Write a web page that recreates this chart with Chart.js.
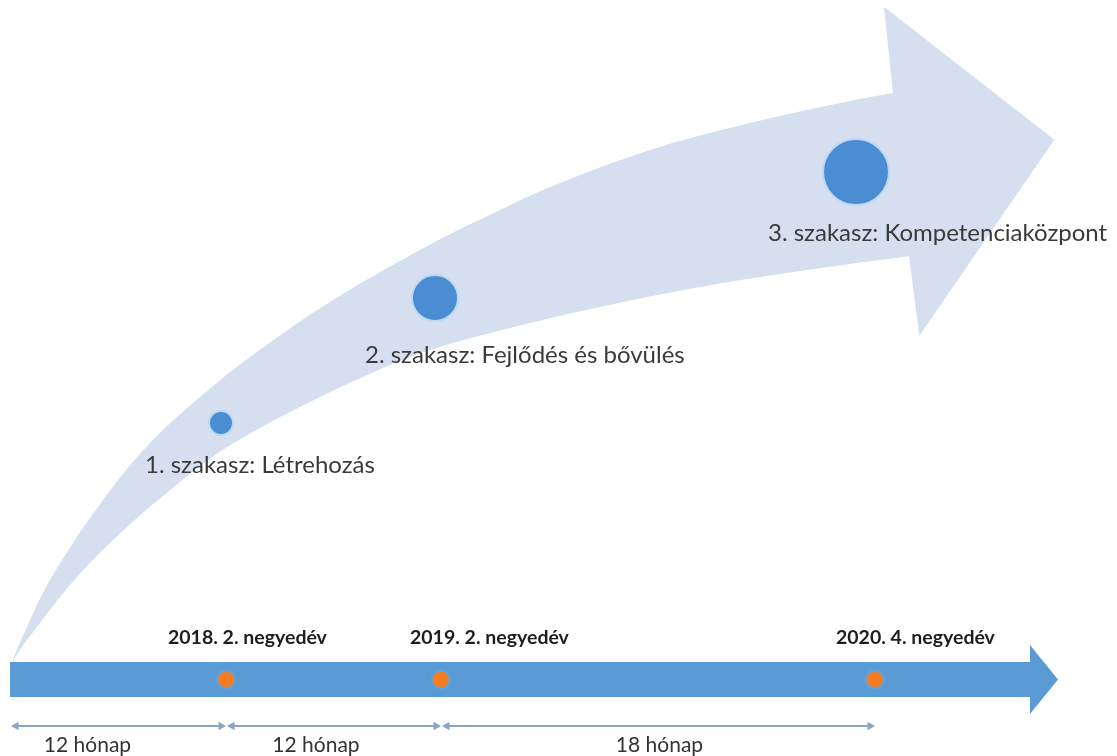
<!DOCTYPE html>
<html lang="hu">
<head>
<meta charset="utf-8">
<script src="https://cdn.jsdelivr.net/npm/chart.js@4.4.1/dist/chart.umd.min.js"></script>
<style>
  html, body { margin: 0; padding: 0; background: #fff; }
  #wrap { width: 1117px; height: 756px; }
</style>
</head>
<body>
<div id="wrap"><canvas id="roadmapChart"></canvas></div>
<script>
// Stages along the growth arrow
const stageNames = ["1. szakasz: Létrehozás", "2. szakasz: Fejlődés és bővülés", "3. szakasz: Kompetenciaközpont"];
const stageX = [221, 435, 856];
const stageY = [423, 298, 172];
const stageSize = [12, 23, 33];

// Timeline milestones and the spans between them
const milestoneNames = ["2018. 2. negyedév", "2019. 2. negyedév", "2020. 4. negyedév"];
const milestoneX = [226, 441, 875];
const spanNames = ["12 hónap", "12 hónap", "18 hónap"];
const timelineStart = 10;
const timelineEnd = 1030;
const timelineTip = 1058;

// Growth arrow outline (upper edge from the tail, lower edge back to the tail)
const upperX = [12, 22, 50, 103, 150, 200, 250, 333, 433, 500, 550, 650, 750, 850, 893];
const upperY = [662, 638, 580, 500, 443, 397, 357, 300, 243, 210, 187, 150, 123, 101, 93];
const lowerX = [910, 800, 700, 600, 510, 430, 367, 300, 260, 215, 180, 127, 77, 27, 12];
const lowerY = [256, 271, 287, 307, 328, 350, 375, 407, 428, 455, 482, 527, 577, 640, 662];
const headX = [884, 1053, 920, 910, 893];
const headY = [8, 140, 333, 256, 93];

const pts = (xs, ys) => xs.map((x, i) => ({ x: x, y: ys[i] }));

const ARROW = "#d5dff0";
const BLUE = "#5b9bd5";
const ORANGE = "#f47b20";
const SPAN = "#8aa5c2";

const barTop = 662, barBottom = 697, headTop = 645, headBottom = 714, spanY = 726;
const barY = (barTop + barBottom) / 2;

const spanStart = [timelineStart + 6].concat(milestoneX.slice(0, -1).map((v) => v + 6));
const spanEnd = milestoneX.map((v) => v - 5);

// body outline: corner points doubled so the spline keeps them sharp
const upperPts = pts(upperX, upperY);
const lowerPts = pts(lowerX, lowerY);
const bodyPts = upperPts.concat([upperPts[upperPts.length - 1], lowerPts[0]], lowerPts);

const spanSets = spanStart.map((s, i) => ({
  type: "line",
  data: [{ x: s, y: spanY }, { x: spanEnd[i], y: spanY }],
  borderColor: SPAN,
  borderWidth: 2,
  pointStyle: "triangle",
  pointRadius: 5,
  pointRotation: [-90, 90],
  pointBackgroundColor: SPAN,
  pointBorderWidth: 0,
  fill: false,
  order: 2,
}));

const textPlugin = {
  id: "roadmapText",
  afterDatasetsDraw(chart) {
    const { ctx, scales: { x, y } } = chart;
    ctx.save();
    ctx.textBaseline = "middle";
    // stage captions
    const stageDx = [-76, -70, -88], stageDy = [42, 57, 61];
    ctx.font = "24px Lato";
    ctx.fillStyle = "#3a3a3a";
    ctx.textAlign = "left";
    stageNames.forEach((t, i) => {
      ctx.fillText(t, x.getPixelForValue(stageX[i] + stageDx[i]), y.getPixelForValue(stageY[i] + stageDy[i]));
    });
    // milestone captions
    const labelDx = [-58, -31, -39];
    ctx.font = "bold 19.5px Lato";
    ctx.fillStyle = "#1e1e1e";
    milestoneNames.forEach((t, i) => {
      ctx.fillText(t, x.getPixelForValue(milestoneX[i] + labelDx[i]), y.getPixelForValue(638));
    });
    // span captions
    const spanDx = [-31, -18, 1];
    ctx.font = "21px Lato";
    ctx.fillStyle = "#333";
    ctx.textAlign = "center";
    spanNames.forEach((t, i) => {
      const mid = (spanStart[i] + spanEnd[i]) / 2;
      ctx.fillText(t, x.getPixelForValue(mid + spanDx[i]), y.getPixelForValue(745));
    });
    ctx.restore();
  },
};

new Chart(document.getElementById("roadmapChart"), {
  type: "scatter",
  data: {
    datasets: [
      {
        type: "bubble",
        data: stageX.map((v, i) => ({ x: v, y: stageY[i], r: stageSize[i] })),
        backgroundColor: "#4a8dd2",
        borderColor: "#bcd8f3",
        borderWidth: 2,
        order: 0,
      },
      {
        data: milestoneX.map((v) => ({ x: v, y: barY })),
        pointRadius: 9,
        pointBackgroundColor: ORANGE,
        pointBorderColor: "rgba(80,170,240,0.55)",
        pointBorderWidth: 3,
        order: 1,
      },
      ...spanSets,
      {
        type: "line",
        data: pts(
          [timelineStart, timelineEnd, timelineEnd, timelineTip, timelineEnd, timelineEnd, timelineStart],
          [barTop, barTop, headTop, barY, headBottom, barBottom, barBottom]
        ),
        borderWidth: 0,
        pointRadius: 0,
        tension: 0,
        backgroundColor: BLUE,
        fill: "shape",
        order: 3,
      },
      {
        // arrow head, stroked in its own colour to hide the seam with the body
        type: "line",
        data: pts(headX, headY),
        borderWidth: 2,
        borderColor: ARROW,
        pointRadius: 0,
        tension: 0,
        backgroundColor: ARROW,
        fill: "shape",
        order: 4,
      },
      {
        type: "line",
        data: bodyPts,
        borderWidth: 0,
        pointRadius: 0,
        tension: 0.35,
        backgroundColor: ARROW,
        fill: "shape",
        order: 5,
      },
    ],
  },
  options: {
    responsive: true,
    maintainAspectRatio: false,
    animation: false,
    layout: { padding: 0, autoPadding: false },
    plugins: { legend: { display: false }, tooltip: { enabled: false } },
    scales: {
      x: { type: "linear", display: false, min: 0, max: 1117 },
      y: { type: "linear", display: false, min: 0, max: 756, reverse: true },
    },
  },
  plugins: [textPlugin],
});
</script>
</body>
</html>
